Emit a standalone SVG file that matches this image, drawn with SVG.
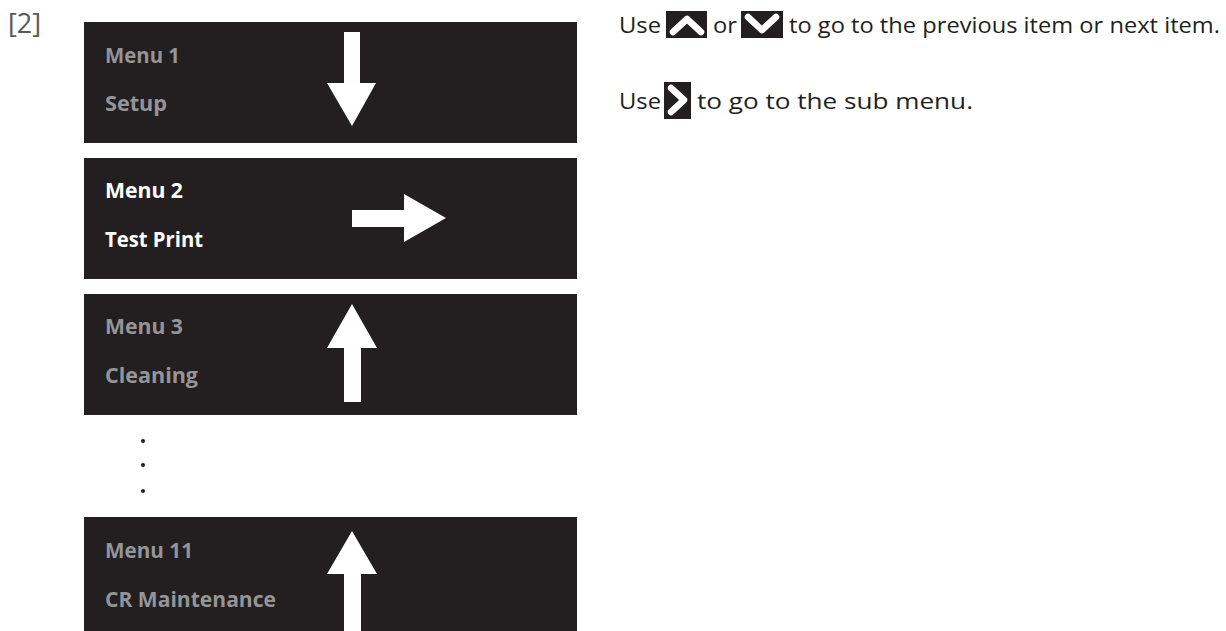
<svg xmlns="http://www.w3.org/2000/svg" width="1226" height="631" viewBox="0 0 1226 631">
  <style>
    .box { fill: #231f20; }
    .lbl { font-family: "Open Sans", "Liberation Sans", sans-serif; font-weight: bold; font-size: 21px; }
    .dim { fill: #939598; }
    .hi { fill: #ffffff; }
    .arrow { fill: #ffffff; }
    .txt { font-family: "Open Sans", "Liberation Sans", sans-serif; font-size: 22px; fill: #231f20; }
    .num { font-family: "Open Sans", "Liberation Sans", sans-serif; font-size: 27px; fill: #58595b; }
    .ico { fill: #231f20; }
    .chev { fill: none; stroke: #ffffff; stroke-width: 6.5; stroke-linecap: round; stroke-linejoin: round; }
    .dot { fill: #231f20; }
  </style>
  <rect width="1226" height="631" fill="#ffffff"/>
  <text class="num" x="8" y="33">[2]</text>

  <g id="menu1">
    <rect class="box" x="84" y="22" width="493" height="121"/>
    <text class="lbl dim" x="105" y="63" textLength="75" lengthAdjust="spacingAndGlyphs">Menu 1</text>
    <text class="lbl dim" x="105" y="111" textLength="62" lengthAdjust="spacingAndGlyphs">Setup</text>
    <polygon class="arrow" points="344,32 360,32 360,83 376,83 352,126 327,83 344,83"/>
  </g>

  <g id="menu2">
    <rect class="box" x="84" y="158" width="493" height="121"/>
    <text class="lbl hi" x="105" y="198" textLength="78" lengthAdjust="spacingAndGlyphs">Menu 2</text>
    <text class="lbl hi" x="105" y="247" textLength="98" lengthAdjust="spacingAndGlyphs">Test Print</text>
    <polygon class="arrow" points="352,210 404,210 404,194 446,218 404,242 404,227 352,227"/>
  </g>

  <g id="menu3">
    <rect class="box" x="84" y="294" width="493" height="121"/>
    <text class="lbl dim" x="105" y="334" textLength="78" lengthAdjust="spacingAndGlyphs">Menu 3</text>
    <text class="lbl dim" x="105" y="383" textLength="93" lengthAdjust="spacingAndGlyphs">Cleaning</text>
    <polygon class="arrow" points="352,304 377,348 361,348 361,402 344,402 344,348 327,348"/>
  </g>

  <g id="ellipsis">
    <circle class="dot" cx="143" cy="441" r="2"/>
    <circle class="dot" cx="143" cy="465" r="2"/>
    <circle class="dot" cx="143" cy="491" r="2"/>
  </g>

  <g id="menu11">
    <rect class="box" x="84" y="517" width="493" height="120"/>
    <text class="lbl dim" x="105" y="558" textLength="88" lengthAdjust="spacingAndGlyphs">Menu 11</text>
    <text class="lbl dim" x="105" y="607" textLength="171" lengthAdjust="spacingAndGlyphs">CR Maintenance</text>
    <polygon class="arrow" points="352,531 377,574 361,574 361,640 344,640 344,574 327,574"/>
  </g>

  <g id="instructions">
    <text class="txt" x="619" y="33" textLength="42" lengthAdjust="spacingAndGlyphs">Use</text>
    <rect class="ico" x="666" y="11" width="41" height="27"/>
    <polyline class="chev" points="673,32 687,19 701,32"/>
    <text class="txt" x="713" y="33" textLength="24" lengthAdjust="spacingAndGlyphs">or</text>
    <rect class="ico" x="741" y="11" width="42" height="27"/>
    <polyline class="chev" points="748,17 762,30 776,17"/>
    <text class="txt" x="789" y="33" textLength="431" lengthAdjust="spacingAndGlyphs">to go to the previous item or next item.</text>

    <text class="txt" x="619" y="109" textLength="42" lengthAdjust="spacingAndGlyphs">Use</text>
    <rect class="ico" x="664" y="82" width="27" height="37"/>
    <polyline class="chev" points="671,88 684,100 671,112"/>
    <text class="txt" x="697" y="109" textLength="276" lengthAdjust="spacingAndGlyphs">to go to the sub menu.</text>
  </g>
</svg>
